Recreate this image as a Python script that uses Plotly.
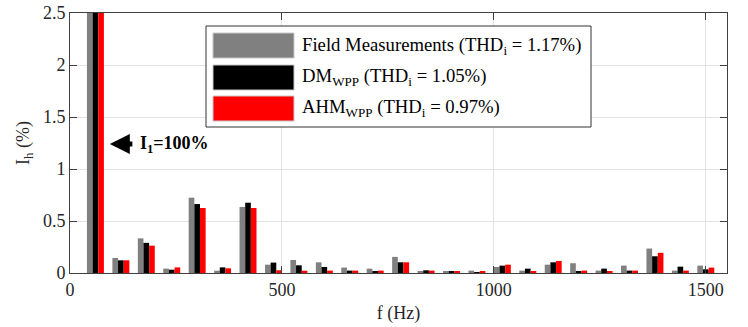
import plotly.graph_objects as go

freqs = [60, 120, 180, 240, 300, 360, 420, 480, 540, 600, 660, 720, 780, 840, 900,
         960, 1020, 1080, 1140, 1200, 1260, 1320, 1380, 1440, 1500]
field = [100, 0.144, 0.333, 0.042, 0.724, 0.022, 0.635, 0.080, 0.125, 0.103, 0.052, 0.042, 0.155,
         0.010, 0.010, 0.023, 0.058, 0.023, 0.080, 0.094, 0.023, 0.071, 0.235, 0.023, 0.071]
dm = [100, 0.122, 0.290, 0.032, 0.663, 0.054, 0.676, 0.100, 0.074, 0.058, 0.023, 0.010, 0.103,
      0.026, 0.010, 0.003, 0.071, 0.042, 0.103, 0.013, 0.042, 0.023, 0.161, 0.061, 0.035]
ahm = [100, 0.122, 0.263, 0.054, 0.625, 0.045, 0.625, 0.026, 0.022, 0.023, 0.023, 0.023, 0.103,
       0.023, 0.010, 0.010, 0.080, 0.013, 0.116, 0.023, 0.013, 0.023, 0.194, 0.023, 0.052]

series_names = ["Field Measurements (THD<sub>i</sub> = 1.17%)",
                "DM<sub>WPP</sub> (THD<sub>i</sub> = 1.05%)",
                "AHM<sub>WPP</sub> (THD<sub>i</sub> = 0.97%)"]
colors = ["#808080", "#000000", "#ff0000"]

FONT = "Liberation Serif"
AX = "#404040"

fig = go.Figure()
for vals, name, c in zip([field, dm, ahm], series_names, colors):
    fig.add_trace(go.Bar(x=freqs, y=vals, name=name, marker=dict(color=c, line=dict(width=0)),
                         showlegend=False))

axis_common = dict(showline=True, linecolor=AX, linewidth=1, mirror="ticks", ticks="inside",
                   ticklen=7, tickcolor=AX, showgrid=True, gridcolor="#e3e3e3", gridwidth=1,
                   zeroline=False, automargin=False,
                   tickfont=dict(family=FONT, size=18, color="#262626"))

fig.update_layout(
    width=748, height=327,
    margin=dict(l=70, r=21, t=13, b=54, autoexpand=False),
    paper_bgcolor="white", plot_bgcolor="white",
    barmode="group", bargap=1/3, bargroupgap=0,
    font=dict(family=FONT, size=18, color="#262626"),
    xaxis=dict(range=[0, 1550], tickvals=[0, 500, 1000, 1500],
               title=dict(text="f (Hz)", font=dict(family=FONT, size=18), standoff=7),
               **axis_common),
    yaxis=dict(range=[0, 2.5], tickvals=[0, 0.5, 1, 1.5, 2, 2.5],
               ticktext=["0", "0.5", "1", "1.5", "2", "2.5"],
               title=dict(text="I<sub>h</sub> (%)", font=dict(family=FONT, size=18), standoff=8),
               **axis_common),
)

# custom legend with large swatches
W, H = 657.0, 260.0
def px(x):
    return (x - 70) / W
def py(y):
    return (273 - y) / H

shapes = [dict(type="rect", xref="paper", yref="paper", x0=px(206), x1=px(591), y0=py(127), y1=py(26),
               fillcolor="white", line=dict(color="#333333", width=1), layer="above")]
rows = [(33, 58, 46), (65, 90, 77), (96, 121, 108)]
for (t, b, mid), c, name in zip(rows, colors, series_names):
    shapes.append(dict(type="rect", xref="paper", yref="paper", x0=px(213), x1=px(294),
                       y0=py(b), y1=py(t), fillcolor=c, line=dict(color="#c8c8c8", width=1),
                       layer="above"))
    fig.add_annotation(xref="paper", yref="paper", x=px(300), y=py(mid), text=name,
                       showarrow=False, xanchor="left", yanchor="middle",
                       font=dict(family=FONT, size=18.7, color="black"))
fig.update_layout(shapes=shapes)

# fundamental annotation
fig.add_annotation(x=94, y=1.24, xref="x", yref="y", text="", showarrow=True, ax=24, ay=0,
                   arrowhead=2, arrowsize=0.8, arrowwidth=5, arrowcolor="black", standoff=0)
fig.add_annotation(x=160, y=1.24, xref="x", yref="y", text="<b>I<sub>1</sub>=100%</b>",
                   showarrow=False, xanchor="left", yanchor="middle",
                   font=dict(family=FONT, size=18, color="black"))

fig.write_html("out.html")
